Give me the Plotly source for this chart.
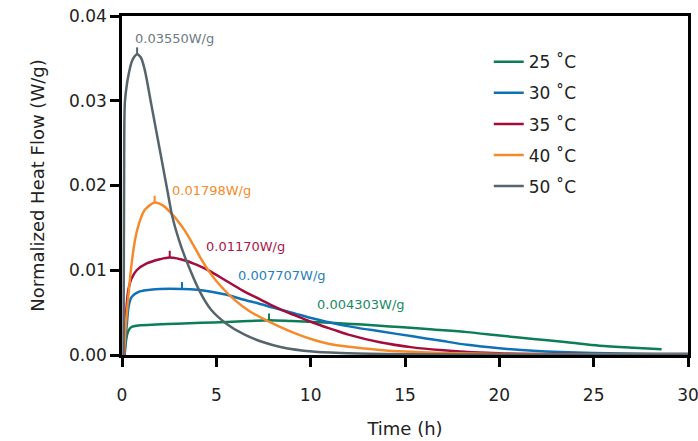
import numpy as np
import plotly.graph_objects as go

# ---- data ----
series_names = ["25 ˚C", "30 ˚C", "35 ˚C", "40 ˚C", "50 ˚C"]

t25 = [0.14, 0.22, 0.33, 0.5, 0.95, 1.8, 2.9, 4.2, 5.56, 6.7, 7.79, 9.0, 10.14, 11.9, 13.67, 14.7,
       16.5, 18.3, 20.0, 21.8, 23.6, 25.3, 27.1, 28.6]
v25 = [0.0, 0.0018, 0.0028, 0.0033, 0.0035, 0.0036, 0.0037, 0.0038, 0.0039, 0.0040, 0.0041, 0.0040,
       0.0039, 0.0037, 0.00345, 0.0033, 0.0030, 0.0027, 0.0023, 0.0019, 0.0015, 0.0011, 0.00085,
       0.00068]

t30 = [0.13, 0.2, 0.27, 0.35, 0.5, 0.95, 1.5, 2.01, 3.18, 4.0, 4.66, 5.56, 6.4, 7.2, 8.0, 9.0, 10.14,
       11.27, 12.5, 13.67, 15.4, 16.85, 18.3, 20.0, 21.8, 25.0, 30.0]
v30 = [0.0, 0.0022, 0.0040, 0.0057, 0.0068, 0.0075, 0.0077, 0.0078, 0.0078, 0.0077, 0.0075, 0.0071,
       0.00655, 0.0061, 0.0056, 0.0050, 0.0043, 0.0037, 0.0032, 0.0028, 0.0022, 0.0017, 0.0012,
       0.0008, 0.0005, 0.00025, 0.00015]

t35 = [0.12, 0.17, 0.25, 0.33, 0.5, 0.78, 1.31, 2.01, 2.53, 3.43, 4.0, 4.66, 5.56, 6.4, 7.2, 8.0, 8.8,
       9.6, 10.4, 11.2, 12.0, 13.67, 15.4, 16.85, 20.0, 25.0, 30.0]
v35 = [0.0, 0.0028, 0.0059, 0.0076, 0.0090, 0.0100, 0.0108, 0.0113, 0.0115, 0.0111, 0.0106, 0.0099,
       0.0087, 0.0076, 0.0067, 0.0058, 0.0050, 0.0043, 0.0036, 0.0030, 0.0024, 0.0015, 0.0009,
       0.0006, 0.0002, 0.0001, 0.00005]

t40 = [0.11, 0.2, 0.32, 0.49, 0.7, 0.9, 1.2, 1.73, 2.2, 2.7, 3.0, 3.32, 3.7, 4.2, 4.6, 5.09, 5.97,
       6.8, 7.74, 8.4, 9.25, 10.14, 11.0, 11.9, 13.67, 15.0, 16.85, 20.0, 25.0, 30.0]
v40 = [0.0, 0.0035, 0.0065, 0.0104, 0.0137, 0.0155, 0.0171, 0.0180, 0.0176, 0.0165, 0.0157, 0.0147,
       0.0133, 0.0113, 0.0099, 0.0085, 0.0065, 0.0051, 0.0040, 0.0033, 0.0025, 0.0018, 0.0013,
       0.0010, 0.0006, 0.0004, 0.00025, 0.00012, 0.00008, 0.00005]

t50 = [0.08, 0.11, 0.15, 0.25, 0.35, 0.5, 0.65, 0.8, 1.0, 1.2, 1.55, 2.08, 2.44, 2.65, 3.0, 3.4,
       4.12, 4.7, 5.53, 6.5, 7.5, 8.4, 10.1, 12.0, 15.0, 20.0, 30.0]
v50 = [0.0, 0.0200, 0.0297, 0.0318, 0.0331, 0.0345, 0.0352, 0.0355, 0.0351, 0.0337, 0.0296, 0.0233,
       0.0190, 0.0165, 0.0137, 0.0112, 0.0075, 0.0054, 0.0037, 0.0024, 0.0015, 0.00095, 0.0004,
       0.0002, 0.0001, 0.00005, 0.00002]

times = [t25, t30, t35, t40, t50]
values = [v25, v30, v35, v40, v50]

peak_x = [7.79, 3.18, 2.53, 1.73, 0.8]
peak_labels = ["0.004303W/g", "0.007707W/g", "0.01170W/g", "0.01798W/g", "0.03550W/g"]

x_ticks = [0, 5, 10, 15, 20, 25, 30]
y_ticks = [0.00, 0.01, 0.02, 0.03, 0.04]
y_tick_text = ["0.00", "0.01", "0.02", "0.03", "0.04"]

# ---- style ----
colors = ["#0b7d57", "#1072b6", "#a30c3b", "#f68a2a", "#56646c"]
label_colors = ["#1a8a63", "#1f7fc0", "#a8184a", "#f68a2a", "#6d7a82"]
label_shift = [(46, 16), (54, 13), (34, 11), (15, 12), (-4, 16)]
FONT = "DejaVu Sans"

fig = go.Figure()
for i in range(5):
    fig.add_trace(go.Scatter(
        x=times[i], y=values[i], mode="lines", name=series_names[i],
        line=dict(color=colors[i], width=2.5, shape="spline", smoothing=0.8),
        legendgroup=series_names[i], cliponaxis=True,
    ))

annotations = []
for i in range(5):
    base = float(np.interp(peak_x[i], times[i], values[i]))
    fig.add_trace(go.Scatter(
        x=[peak_x[i], peak_x[i]], y=[base, base + 0.0008], mode="lines",
        line=dict(color=colors[i], width=2), showlegend=False, hoverinfo="skip",
    ))
    dx, dy = label_shift[i]
    annotations.append(dict(
        x=peak_x[i], y=base, xref="x", yref="y", text=peak_labels[i], showarrow=False,
        xanchor="left", yanchor="middle", xshift=dx, yshift=dy,
        font=dict(family=FONT, size=13, color=label_colors[i]),
    ))

fig.update_layout(
    width=698, height=441,
    margin=dict(l=122, r=10, t=16, b=86),
    paper_bgcolor="white", plot_bgcolor="white",
    font=dict(family=FONT, size=17, color="#222"),
    showlegend=True,
    legend=dict(x=0.648, y=0.917, xanchor="left", yanchor="top",
                bgcolor="rgba(0,0,0,0)", font=dict(family=FONT, size=17, color="#222"),
                traceorder="grouped", tracegroupgap=6),
    annotations=annotations,
)
fig.update_xaxes(
    range=[0, 30], tickvals=x_ticks, showgrid=False, zeroline=False, automargin=False,
    showline=True, linecolor="black", linewidth=2.5, mirror=True,
    ticks="outside", ticklen=9, tickwidth=2.5, tickcolor="black",
    ticklabelstandoff=14, ticklabeloverflow="allow",
    title=dict(text="Time (h)", font=dict(family=FONT, size=18), standoff=19),
)
fig.update_yaxes(
    range=[0, 0.04], tickvals=y_ticks, ticktext=y_tick_text, showgrid=False, zeroline=False,
    automargin=False, ticklabeloverflow="allow",
    showline=True, linecolor="black", linewidth=2.5, mirror=True,
    ticks="outside", ticklen=9, tickwidth=2.5, tickcolor="black",
    title=dict(text="Normalized Heat Flow (W/g)", font=dict(family=FONT, size=18), standoff=20),
)

fig.write_html("out.html", config={"displayModeBar": False},
               post_script="document.body.style.margin='0px';")
